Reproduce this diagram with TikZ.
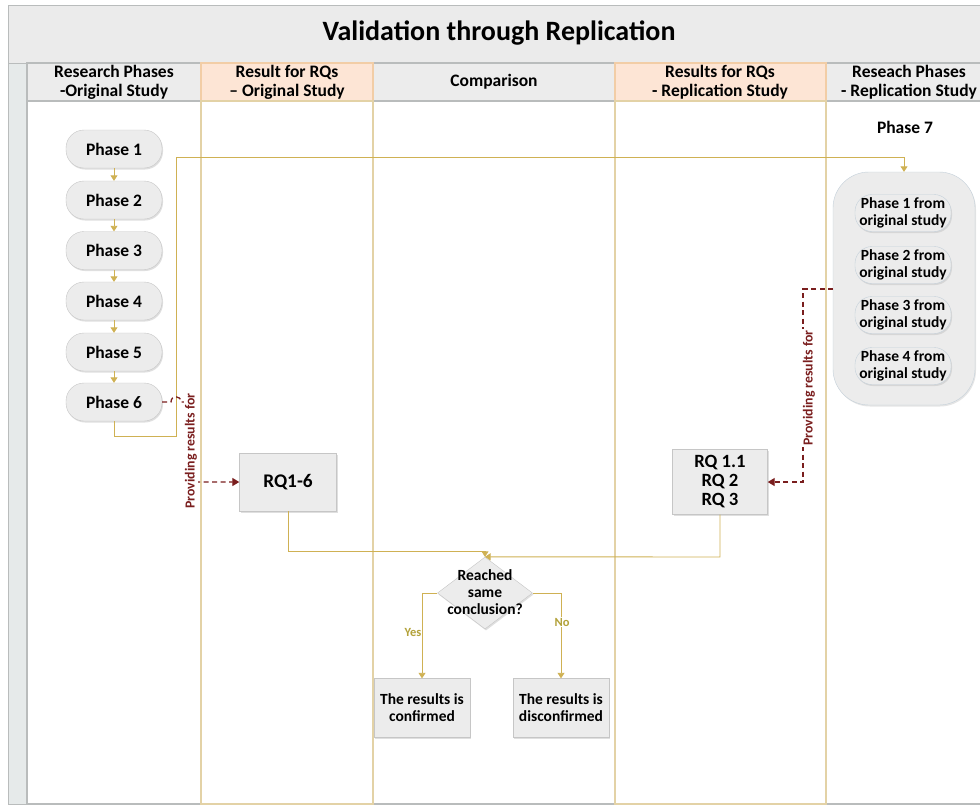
\documentclass[tikz,border=0pt]{standalone}
\usepackage{fontspec}
\setmainfont{Carlito}
\usetikzlibrary{shapes.geometric,arrows.meta,shadows}
\definecolor{tanc}{HTML}{CFB153}
\definecolor{olivec}{HTML}{B3A23A}
\definecolor{darkred}{HTML}{7A1E1E}
\definecolor{framec}{HTML}{B9BCBC}
\definecolor{titlec}{HTML}{EBEBEB}
\definecolor{hdrgray}{HTML}{ECECEC}
\definecolor{hdrpink}{HTML}{FDE5D5}
\definecolor{pinkline}{HTML}{F2CDA6}
\definecolor{laneTan}{HTML}{E3D2A6}
\definecolor{stripc}{HTML}{E6EAEA}
\definecolor{nodefill}{HTML}{ECECEC}
\definecolor{nodeline}{HTML}{C6C6C6}
\definecolor{blueline}{HTML}{C4D0DA}
\tikzset{
  hdrtext/.style={font=\bfseries\fontsize{17.5}{19}\selectfont, align=center, text=black},
  phase/.style={draw=nodeline, fill=nodefill, rounded corners=18pt, minimum width=96pt, minimum height=38pt,
    font=\bfseries\fontsize{17.5}{18}\selectfont, drop shadow={shadow xshift=1pt, shadow yshift=-1.5pt, opacity=0.25}},
  subph/.style={draw=blueline, fill=nodefill, rounded corners=17pt, minimum width=96pt, minimum height=37pt, inner sep=1pt,
    align=center, font=\bfseries\fontsize{15.5}{16.5}\selectfont, drop shadow={shadow xshift=1pt, shadow yshift=-1.5pt, opacity=0.2}},
  container/.style={draw=blueline, fill=nodefill, rounded corners=36pt, minimum width=142pt, minimum height=233pt,
    drop shadow={shadow xshift=1pt, shadow yshift=-1.5pt, opacity=0.2}},
  box/.style={draw=nodeline, fill=nodefill, align=center, inner sep=2pt,
    drop shadow={shadow xshift=1pt, shadow yshift=-1.5pt, opacity=0.25}},
  conn/.style={draw=tanc, line width=0.9pt, -{Triangle[width=7pt,length=5.5pt]}},
  dconn/.style={draw=darkred, line width=1.3pt, dash pattern=on 5pt off 3.5pt},
  provlabel/.style={rotate=90, fill=white, inner sep=1pt, text=darkred, font=\bfseries\fontsize{13.8}{15}\selectfont},
  yesno/.style={text=olivec, font=\bfseries\fontsize{12.5}{14}\selectfont, inner sep=1pt}
}
\begin{document}
\begin{tikzpicture}[x=1pt,y=-1pt]
\useasboundingbox (0,0) rectangle (980,806);
\clip (0,0) rectangle (980,806);
\fill[white] (0,0) rectangle (980,806);
% title band
\draw[framec, line width=1pt, fill=titlec] (8,5) rectangle (1000,63);
\node[font=\bfseries\fontsize{28}{30}\selectfont] (title) at (499,33) {Validation through Replication};
% left strip
\draw[framec, line width=1pt, fill=stripc] (8,63) rectangle (27,804);
% gray lanes
\draw[framec, line width=1.4pt, fill=hdrgray] (27,63) rectangle (201,101);
\draw[framec, line width=1.4pt] (27,101) rectangle (201,804);
\draw[framec, line width=1.4pt, fill=hdrgray] (373,63) rectangle (615,101);
\draw[framec, line width=1.4pt] (373,101) rectangle (615,804);
\draw[framec, line width=1.4pt, fill=hdrgray] (826,63) rectangle (1000,101);
\draw[framec, line width=1.4pt] (826,101) rectangle (1000,804);
% pink lanes
\draw[pinkline, line width=1.2pt, fill=hdrpink] (201,63) rectangle (373,101);
\draw[laneTan, line width=1.2pt] (201,101) rectangle (373,804);
\draw[pinkline, line width=1.2pt, fill=hdrpink] (615,63) rectangle (826,101);
\draw[laneTan, line width=1.2pt] (615,101) rectangle (826,804);
% header texts
\node[hdrtext] (h1) at (114,82) {Research Phases\\-Original Study};
\node[hdrtext] (h2) at (287,82) {Result for RQs\\– Original Study};
\node[hdrtext] (h3) at (494,82) {Comparison};
\node[hdrtext] (h4) at (720,82) {Results for RQs\\- Replication Study};
\node[hdrtext] (h5) at (909,82) {Reseach Phases\\- Replication Study};

% phases of original study
\node[phase] (p1) at (114,149) {Phase 1};
\node[phase] (p2) at (114,200) {Phase 2};
\node[phase] (p3) at (114,250.5) {Phase 3};
\node[phase] (p4) at (114,301) {Phase 4};
\node[phase] (p5) at (114,352) {Phase 5};
\node[phase] (p6) at (114,402) {Phase 6};
\draw[conn] (p1) -- (p2);
\draw[conn] (p2) -- (p3);
\draw[conn] (p3) -- (p4);
\draw[conn] (p4) -- (p5);
\draw[conn] (p5) -- (p6);

% phase 7
\node[font=\bfseries\fontsize{17.5}{18}\selectfont] (ph7) at (905,127) {Phase 7};
\node[container] (cont) at (904,288.5) {};
\node[subph] (s1) at (903,213) {Phase 1 from\\original study};
\node[subph] (s2) at (903,265) {Phase 2 from\\original study};
\node[subph] (s3) at (903,315) {Phase 3 from\\original study};
\node[subph] (s4) at (903,366) {Phase 4 from\\original study};

% RQ boxes
\node[box, minimum width=97pt, minimum height=58pt, font=\bfseries\fontsize{19.3}{19}\selectfont] (rq16) at (288,482) {RQ1-6};
\node[box, minimum width=95pt, minimum height=65pt, font=\bfseries\fontsize{18.7}{19}\selectfont] (rq11) at (720,482) {RQ 1.1\\RQ 2\\RQ 3};

% decision
\node[diamond, draw=nodeline, fill=nodefill, minimum width=95pt, minimum height=72pt, inner sep=0pt,
  drop shadow={shadow xshift=1pt, shadow yshift=-1.5pt, opacity=0.25}] (dia) at (485,593) {};
\node[align=center, font=\bfseries\fontsize{15.5}{17}\selectfont] (diatext) at (485,592) {Reached\\same\\conclusion?};

% result boxes
\node[box, minimum width=96pt, minimum height=59pt, font=\bfseries\fontsize{15.5}{17}\selectfont] (conf) at (422,708) {The results is\\confirmed};
\node[box, minimum width=96pt, minimum height=59pt, font=\bfseries\fontsize{15.5}{17}\selectfont] (disc) at (561,708) {The results is\\disconfirmed};

% phase 6 -> phase 7
\coordinate (a1) at (114,436);
\coordinate (a2) at (176,436);
\coordinate (a3) at (176,157);
\coordinate (a4) at (904,157);
\draw[conn] (p6.south) -- (a1) -- (a2) -- (a3) -- (a4) -- (cont.north);

% providing results (left)
\coordinate (b1) at (171,402);
\coordinate (b2) at (181,402);
\coordinate (b3) at (190,402);
\coordinate (b4) at (190,482);
\draw[dconn, -{Triangle[width=8pt,length=7pt]}] (p6.east) -- (b1) .. controls (171,395) and (181,395) .. (b2) -- (b3) -- (b4) -- (rq16.west);
\node[provlabel] (lab1) at (191,451) {Providing results for};

% providing results (right)
\coordinate (c0) at (833,289);
\coordinate (c1) at (803,289);
\coordinate (c2) at (803,482);
\draw[dconn, -{Triangle[width=8pt,length=7pt]}] (c0) -- (c1) -- (c2) -- (rq11.east);
\node[provlabel] (lab2) at (809,388) {Providing results for};

% RQ -> decision
\coordinate (d1) at (288,551);
\coordinate (d2) at (485,551);
\draw[conn] (rq16.south) -- (d1) -- (d2) -- (dia.north);
\coordinate (e1) at (720,557);
\draw[conn] (rq11.south) -- (e1) -- (dia.north);

% yes / no
\draw[conn] (dia.west) -| (conf.north);
\draw[conn] (dia.east) -| (disc.north);
\node[yesno] (yes) at (413,632) {Yes};
\node[yesno, fill=white] (no) at (562,622) {No};
\end{tikzpicture}
\end{document}
